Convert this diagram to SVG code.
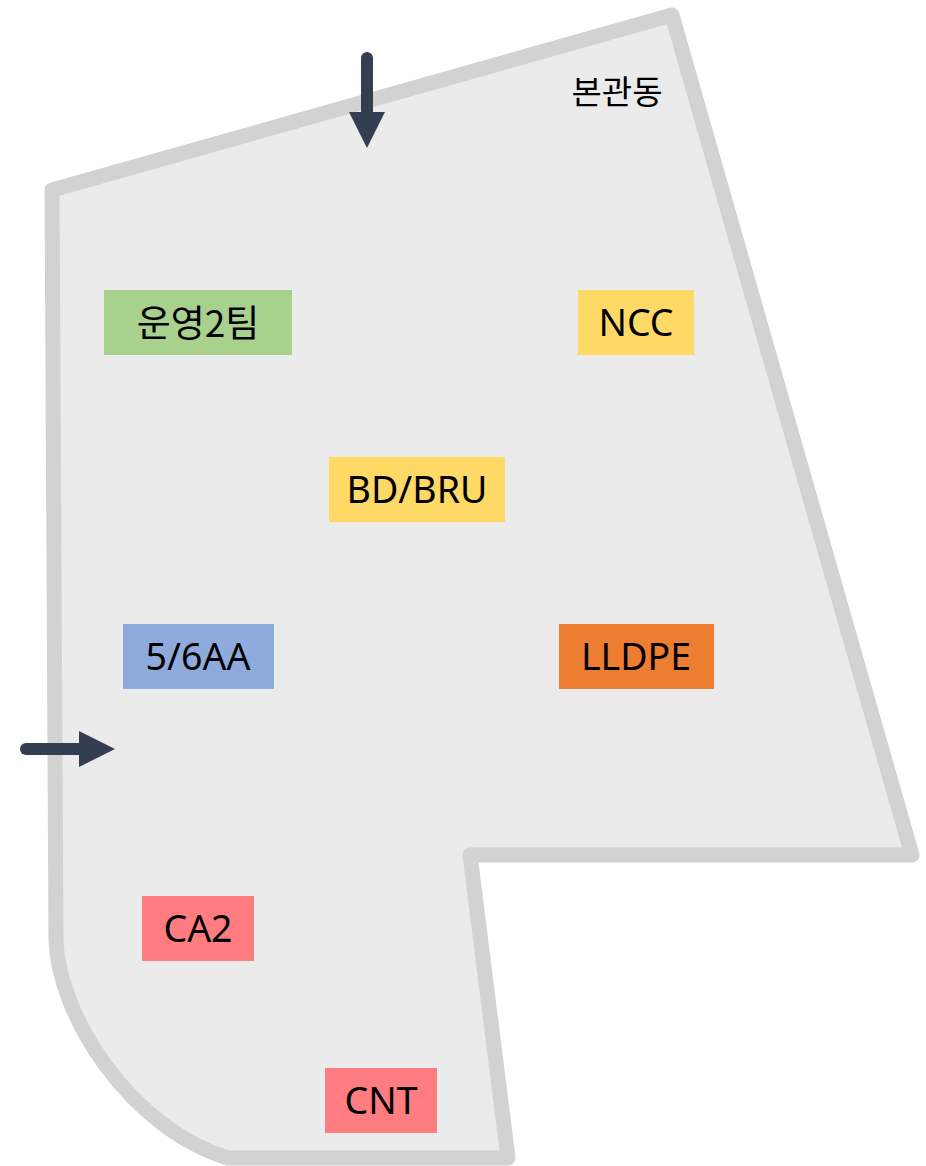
<svg xmlns="http://www.w3.org/2000/svg" width="926" height="1166" viewBox="0 0 926 1166">
  <style>
    .bld { fill: #ebebeb; stroke: #d3d2d3; stroke-width: 15; stroke-linejoin: round; }
    .lbl { font-family: "Noto Sans", "Noto Sans CJK KR", sans-serif; font-size: 37.5px; fill: #000; text-anchor: middle; }
    .ko { font-family: "Noto Sans CJK KR", "Noto Sans", sans-serif; }
    .arrow { fill: none; stroke: #333f50; stroke-width: 12; stroke-linecap: round; }
  </style>
  <defs>
    <marker id="head" markerUnits="userSpaceOnUse" markerWidth="36" markerHeight="36" viewBox="0 0 36 36" refX="0" refY="18" orient="auto">
      <path d="M0,0 L36,18 L0,36 Z" fill="#333f50"/>
    </marker>
  </defs>

  <g id="building">
    <path class="bld" d="M52,190 L672,15 L912,855 L470,855 L508,1158 L228,1158 C130,1128 58,1015 56,940 Z"/>
    <text class="lbl ko" x="617" y="104" style="font-size:33px">본관동</text>
  </g>

  <g id="connectors">
    <path class="arrow" d="M367,58 L367,112" marker-end="url(#head)"/>
    <path class="arrow" d="M26,749 L79,749" marker-end="url(#head)"/>
  </g>

  <g id="node-ops2">
    <rect x="104" y="290" width="188" height="65" fill="#a9d18e"/>
    <text class="lbl ko" x="198" y="337" style="font-size:37px">운영2팀</text>
  </g>
  <g id="node-ncc">
    <rect x="578" y="290" width="116" height="65" fill="#ffd966"/>
    <text class="lbl" x="636" y="336">NCC</text>
  </g>
  <g id="node-bdbru">
    <rect x="329" y="457" width="176" height="65" fill="#ffd966"/>
    <text class="lbl" x="417" y="503">BD/BRU</text>
  </g>
  <g id="node-56aa">
    <rect x="123" y="624" width="151" height="65" fill="#8faadc"/>
    <text class="lbl" x="198" y="670">5/6AA</text>
  </g>
  <g id="node-lldpe">
    <rect x="559" y="624" width="155" height="65" fill="#ed7d31"/>
    <text class="lbl" x="636" y="670">LLDPE</text>
  </g>
  <g id="node-ca2">
    <rect x="142" y="896" width="112" height="65" fill="#ff7c80"/>
    <text class="lbl" x="198" y="942">CA2</text>
  </g>
  <g id="node-cnt">
    <rect x="325" y="1068" width="112" height="65" fill="#ff7c80"/>
    <text class="lbl" x="381" y="1114">CNT</text>
  </g>
</svg>
